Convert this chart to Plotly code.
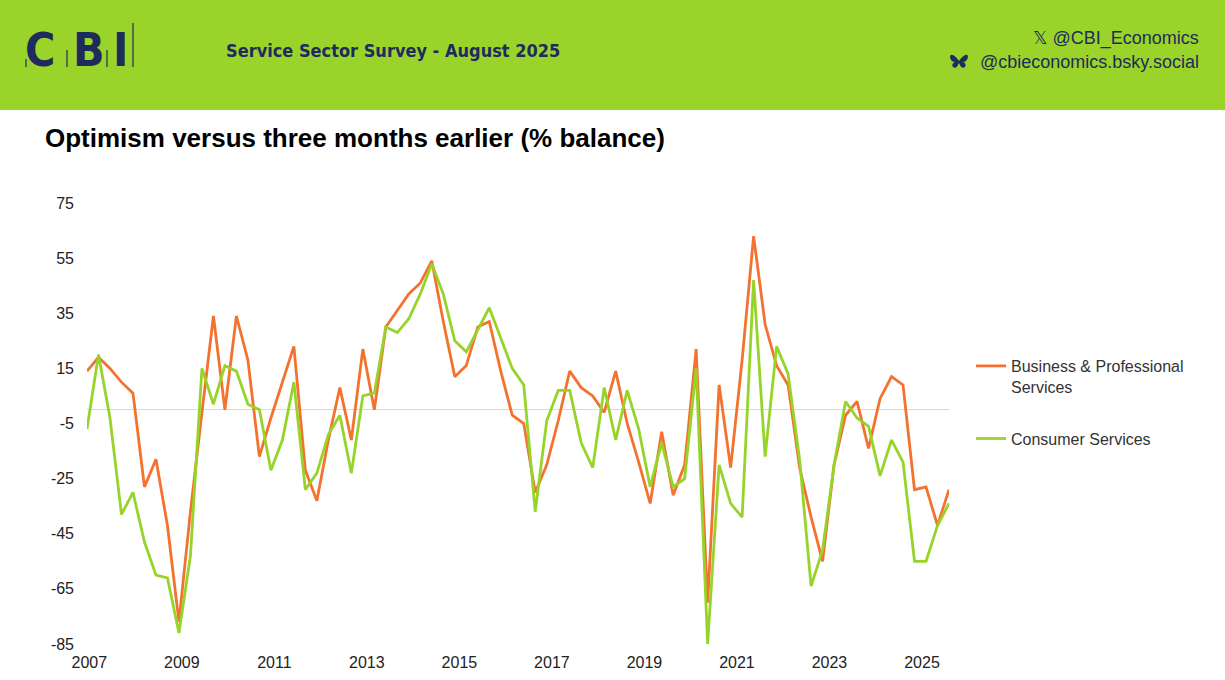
import plotly.graph_objects as go

# ── Data (quarterly survey, Nov 2006 – Aug 2025) ─────────────────────────────
BUSINESS_PROF = [
    14, 19, 15, 10, 6, -28, -18, -42, -77, -37,
    -1, 34, 0, 34, 18, -17, -3, 10, 23, -22,
    -33, -11, 8, -11, 22, 0, 30, 36, 42, 46,
    54, 32, 12, 16, 30, 32, 14, -2, -5, -30,
    -20, -4, 14, 8, 5, -1, 14, -5, -19, -34,
    -8, -31, -20, 22, -70, 9, -21, 18, 63, 31,
    16, 9, -21, -39, -55, -20, -2, 3, -14, 4,
    12, 9, -29, -28, -42, -29,
]
CONSUMER = [
    -7, 20, -3, -38, -30, -48, -60, -61, -81, -53,
    15, 2, 16, 14, 2, 0, -22, -11, 10, -29,
    -23, -9, -2, -23, 5, 6, 30, 28, 33, 42,
    53, 42, 25, 21, 29, 37, 26, 15, 9, -37,
    -4, 7, 7, -12, -21, 8, -11, 7, -7, -28,
    -12, -28, -25, 15, -85, -20, -34, -39, 47, -17,
    23, 13, -18, -64, -51, -20, 3, -3, -6, -24,
    -11, -19, -55, -55, -42, -34,
]
YEAR_LABELS = ["2007", "2009", "2011", "2013", "2015",
               "2017", "2019", "2021", "2023", "2025"]
Y_TICKS = [75, 55, 35, 15, -5, -25, -45, -65, -85]

MONTHS = ["Feb", "May", "Aug", "Nov"]
quarters = ["Nov 2006"] + [f"{MONTHS[i % 4]} {2007 + i // 4}" for i in range(75)]
x_idx = list(range(len(quarters)))

ORANGE = "#F4722F"
GREEN = "#97D42A"
HEADER_GREEN = "#9AD42A"
NAVY = "#1F2B5C"
CONDENSED = "DejaVu Sans Condensed, Liberation Sans Narrow, Arial"

# ── Pixel helpers (plot area in page pixels) ─────────────────────────────────
W_PAGE, H_PAGE = 1225, 680
L, R, T, B = 87, 276, 203, 36
PW, PH = W_PAGE - L - R, H_PAGE - T - B


def xp(px):
    return (px - L) / PW


def yp(py):
    return (T + PH - py) / PH


fig = go.Figure()

fig.add_trace(go.Scatter(
    x=x_idx, y=BUSINESS_PROF, mode="lines",
    name="Business & Professional<br>Services",
    line=dict(color=ORANGE, width=2.8),
    customdata=quarters, legendgroup="a",
    hovertemplate="%{customdata}: %{y}<extra>Business & Professional</extra>",
))
fig.add_trace(go.Scatter(
    x=x_idx, y=CONSUMER, mode="lines",
    name="Consumer Services",
    line=dict(color=GREEN, width=2.8),
    customdata=quarters, legendgroup="b",
    hovertemplate="%{customdata}: %{y}<extra>Consumer Services</extra>",
))

# ── Header band, logo and titles ─────────────────────────────────────────────
shapes = [dict(type="rect", xref="paper", yref="paper",
               x0=xp(-2), x1=xp(W_PAGE + 2), y0=yp(110), y1=yp(-2),
               fillcolor=HEADER_GREEN, line=dict(width=0), layer="below")]

for lx, top in [(26, 59), (67, 50), (107, 50), (133, 23)]:
    shapes.append(dict(type="line", xref="paper", yref="paper",
                       x0=xp(lx), x1=xp(lx), y0=yp(67), y1=yp(top),
                       line=dict(color=NAVY, width=1.2)))


def bfly(cx, cy, s):
    # small butterfly outline, given in page pixels
    pts = [
        ("M", [(0, -1)]),
        ("C", [(-3, -6), (-8, -9), (-9, -7)]),
        ("C", [(-10, -5), (-9, 0), (-4, 0)]),
        ("C", [(-8, 1), (-8, 6), (-4, 6)]),
        ("C", [(-2, 6), (-1, 3), (0, 1)]),
        ("C", [(1, 3), (2, 6), (4, 6)]),
        ("C", [(8, 6), (8, 1), (4, 0)]),
        ("C", [(9, 0), (10, -5), (9, -7)]),
        ("C", [(8, -9), (3, -6), (0, -1)]),
    ]
    out = ""
    for cmd, coords in pts:
        out += cmd + " " + " ".join(
            f"{xp(cx + dx * s):.5f},{yp(cy + dy * s):.5f}" for dx, dy in coords) + " "
    return out + "Z"


shapes.append(dict(type="path", xref="paper", yref="paper",
                   path=bfly(959, 62, 0.95), fillcolor=NAVY, line=dict(width=0)))

annotations = [
    dict(text="<b>C</b>", x=xp(40), y=yp(50), xanchor="center", yanchor="middle",
         font=dict(family=CONDENSED, size=46, color=NAVY)),
    dict(text="<b>B</b>", x=xp(89), y=yp(50), xanchor="center", yanchor="middle",
         font=dict(family=CONDENSED, size=46, color=NAVY)),
    dict(text="<b>I</b>", x=xp(120), y=yp(50), xanchor="center", yanchor="middle",
         font=dict(family=CONDENSED, size=46, color=NAVY)),
    dict(text="<b>Service Sector Survey - August 2025</b>", x=xp(224), y=yp(50),
         xanchor="left", yanchor="middle",
         font=dict(family=CONDENSED, size=18, color=NAVY)),
    dict(text="𝕏 @CBI_Economics", x=xp(1201), y=yp(39),
         xanchor="right", yanchor="middle",
         font=dict(family="Arial, Liberation Sans, DejaVu Sans", size=18, color=NAVY)),
    dict(text="@cbieconomics.bsky.social", x=xp(1201), y=yp(62),
         xanchor="right", yanchor="middle",
         font=dict(family="Arial, Liberation Sans", size=18, color=NAVY)),
    dict(text="<b>Optimism versus three months earlier (% balance)</b>",
         x=xp(43), y=yp(138), xanchor="left", yanchor="middle",
         font=dict(family="Arial, Liberation Sans", size=26, color="#000000")),
]
for a in annotations:
    a.update(xref="paper", yref="paper", showarrow=False)

# ── Layout ───────────────────────────────────────────────────────────────────
fig.update_layout(
    width=W_PAGE, height=H_PAGE,
    margin=dict(l=L, r=R, t=T, b=B),
    paper_bgcolor="white", plot_bgcolor="white",
    font=dict(family="Arial, Liberation Sans", size=16, color="#333333"),
    shapes=shapes, annotations=annotations,
    showlegend=True,
    legend=dict(x=xp(971), y=yp(349), xanchor="left", yanchor="top",
                valign="top", tracegroupgap=28, itemwidth=30,
                font=dict(size=16, color="#333333"), bgcolor="rgba(0,0,0,0)"),
)

fig.update_xaxes(
    range=[0, len(quarters) - 1],
    tickvals=[0.2 + 8.05 * k for k in range(len(YEAR_LABELS))],
    ticktext=YEAR_LABELS,
    showgrid=False, zeroline=False, showline=False, ticks="",
    ticklabelstandoff=7, automargin=False,
    tickfont=dict(size=16, color="#222222"),
)
fig.update_yaxes(
    range=[-85, 75], tickvals=Y_TICKS, ticktext=[str(v) for v in Y_TICKS],
    showgrid=False, zeroline=True, zerolinecolor="#d9d9d9", zerolinewidth=1,
    showline=False, ticks="", ticklabelstandoff=12, automargin=False,
    tickfont=dict(size=16, color="#222222"),
)

fig.write_html("out.html", config={"displayModeBar": False},
               post_script="document.body.style.margin='0';")
